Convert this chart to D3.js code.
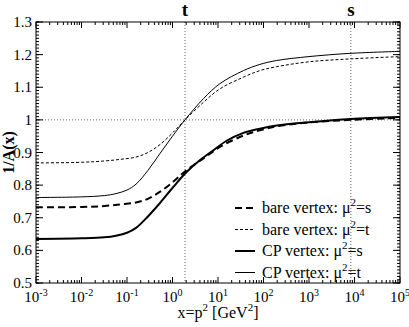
<!DOCTYPE html>
<html>
<head>
<meta charset="utf-8">
<script src="https://cdn.jsdelivr.net/npm/d3@7"></script>
<style>
  body { margin: 0; background: #fff; }
</style>
</head>
<body>
<svg id="chart" width="409" height="327" font-family="'Liberation Serif', 'Times New Roman', serif"></svg>
<script>
'use strict';

// x ticks (decades) and y ticks
var xDecades = [-3, -2, -1, 0, 1, 2, 3, 4, 5];
var yTicks = [0.5, 0.6, 0.7, 0.8, 0.9, 1.0, 1.1, 1.2, 1.3];
var yTickLabels = ['0.5', '0.6', '0.7', '0.8', '0.9', '1', '1.1', '1.2', '1.3'];

// reference scales marked on top
var tValue = 1.88;
var sValue = 8318;

// series, [x, 1/A(x)]
var bareS = [
  [0.001, 0.732], [0.01, 0.733], [0.0316, 0.736], [0.0708, 0.741], [0.158, 0.747],
  [0.288, 0.758], [0.537, 0.780], [1.05, 0.811], [1.88, 0.842], [4.79, 0.882],
  [11, 0.917], [36.3, 0.952], [83.2, 0.968], [195, 0.980], [1000, 0.992],
  [8318, 1.000], [1e5, 1.006]
];
var bareT = [
  [0.001, 0.868], [0.01, 0.870], [0.0316, 0.874], [0.0708, 0.879], [0.158, 0.886],
  [0.288, 0.900], [0.537, 0.925], [1.05, 0.963], [1.88, 1.000], [4.79, 1.054],
  [11, 1.095], [36.3, 1.131], [83.2, 1.151], [195, 1.163], [1000, 1.178],
  [8318, 1.187], [1e5, 1.194]
];
var cpS = [
  [0.001, 0.635], [0.01, 0.637], [0.0316, 0.640], [0.0575, 0.645], [0.1, 0.654],
  [0.158, 0.669], [0.288, 0.704], [0.537, 0.746], [1.05, 0.795], [2.04, 0.840],
  [3.98, 0.876], [7.94, 0.907], [15.5, 0.936], [36.3, 0.960], [83.2, 0.973],
  [195, 0.983], [1000, 0.993], [8318, 1.003], [1e5, 1.009]
];
var cpT = [
  [0.001, 0.762], [0.01, 0.764], [0.0316, 0.768], [0.0575, 0.774], [0.1, 0.785],
  [0.158, 0.803], [0.288, 0.845], [0.537, 0.898], [1, 0.950], [1.88, 1.000],
  [4.79, 1.065], [11, 1.111], [36.3, 1.151], [83.2, 1.170], [195, 1.182],
  [1000, 1.194], [8318, 1.204], [1e5, 1.210]
];

var legendLabels = ['bare vertex: μ', 'bare vertex: μ', 'CP vertex: μ', 'CP vertex: μ'];
var legendSuffix = ['=s', '=t', '=s', '=t'];

var series = [
  { data: bareS, width: 2, dash: '7,4' },
  { data: bareT, width: 1, dash: '3,2' },
  { data: cpS, width: 2, dash: null },
  { data: cpT, width: 1, dash: null }
];

var margin = { left: 36, right: 9, top: 22, bottom: 44 };
var W = 409, H = 327;
var svg = d3.select('#chart');

var x = d3.scaleLog().domain([1e-3, 1e5]).range([margin.left, W - margin.right]);
var y = d3.scaleLinear().domain([0.5, 1.3]).range([H - margin.bottom, margin.top]);

var x0 = x.range()[0], x1 = x.range()[1];
var y0 = y.range()[0], y1 = y.range()[1];

// dotted reference lines
var ref = svg.append('g')
  .attr('stroke', '#666')
  .attr('stroke-width', 1)
  .attr('stroke-dasharray', '1,2');

ref.append('line')
  .attr('x1', x0).attr('x2', x1)
  .attr('y1', y(1)).attr('y2', y(1));

[tValue, sValue].forEach(function(v) {
  ref.append('line')
    .attr('x1', x(v)).attr('x2', x(v))
    .attr('y1', y1).attr('y2', y0);
});

// curves
var line = d3.line()
  .x(function(d) { return x(d[0]); })
  .y(function(d) { return y(d[1]); })
  .curve(d3.curveCatmullRom.alpha(0.5));

series.forEach(function(s) {
  svg.append('path')
    .datum(s.data)
    .attr('d', line)
    .attr('fill', 'none')
    .attr('stroke', '#000')
    .attr('stroke-width', s.width)
    .attr('stroke-dasharray', s.dash);
});

// frame
svg.append('rect')
  .attr('x', x0).attr('y', y1)
  .attr('width', x1 - x0).attr('height', y0 - y1)
  .attr('fill', 'none')
  .attr('stroke', '#000')
  .attr('stroke-width', 1);

// ticks, all pointing inwards
var ticks = svg.append('g').attr('stroke', '#000').attr('stroke-width', 1);

var xMinor = [];
xDecades.slice(0, -1).forEach(function(e) {
  for (var k = 2; k <= 9; k++) { xMinor.push(k * Math.pow(10, e)); }
});

xDecades.forEach(function(e) {
  var px = x(Math.pow(10, e));
  ticks.append('line').attr('x1', px).attr('x2', px).attr('y1', y0).attr('y2', y0 - 6);
  ticks.append('line').attr('x1', px).attr('x2', px).attr('y1', y1).attr('y2', y1 + 6);
});
xMinor.forEach(function(v) {
  var px = x(v);
  ticks.append('line').attr('x1', px).attr('x2', px).attr('y1', y0).attr('y2', y0 - 3);
  ticks.append('line').attr('x1', px).attr('x2', px).attr('y1', y1).attr('y2', y1 + 3);
});

var yMinor = d3.range(50, 131).map(function(v) { return v / 100; });
yMinor.forEach(function(v) {
  var py = y(v);
  ticks.append('line').attr('x1', x0).attr('x2', x0 + 3).attr('y1', py).attr('y2', py);
  ticks.append('line').attr('x1', x1).attr('x2', x1 - 3).attr('y1', py).attr('y2', py);
});
yTicks.forEach(function(v) {
  var py = y(v);
  ticks.append('line').attr('x1', x0).attr('x2', x0 + 7).attr('y1', py).attr('y2', py);
  ticks.append('line').attr('x1', x1).attr('x2', x1 - 7).attr('y1', py).attr('y2', py);
});

// tick labels
yTicks.forEach(function(v, i) {
  svg.append('text')
    .attr('x', x0 - 4)
    .attr('y', y(v) + 5)
    .attr('text-anchor', 'end')
    .attr('font-size', 15)
    .text(yTickLabels[i]);
});

xDecades.forEach(function(e) {
  var t = svg.append('text')
    .attr('x', x(Math.pow(10, e)))
    .attr('y', y0 + 19)
    .attr('text-anchor', 'middle')
    .attr('font-size', 15);
  t.append('tspan').text('10');
  t.append('tspan').attr('dy', -6).attr('font-size', 10).text(e);
});

// axis titles
var xt = svg.append('text')
  .attr('x', 218)
  .attr('y', 318)
  .attr('text-anchor', 'middle')
  .attr('font-size', 16);
xt.append('tspan').text('x=p');
xt.append('tspan').attr('dy', -7).attr('font-size', 11).text('2');
xt.append('tspan').attr('dy', 7).text(' [GeV');
xt.append('tspan').attr('dy', -7).attr('font-size', 11).text('2');
xt.append('tspan').attr('dy', 7).text(']');

svg.append('text')
  .attr('transform', 'translate(14,' + ((y0 + y1) / 2) + ') rotate(-90)')
  .attr('text-anchor', 'middle')
  .attr('font-size', 16)
  .attr('font-weight', 'bold')
  .text('1/A(x)');

// t and s markers above the frame
[['t', tValue], ['s', sValue]].forEach(function(m) {
  svg.append('text')
    .attr('x', x(m[1]))
    .attr('y', 16)
    .attr('text-anchor', 'middle')
    .attr('font-size', 19)
    .attr('font-weight', 'bold')
    .text(m[0]);
});

// legend
var legend = svg.append('g').attr('transform', 'translate(235,208)');
series.forEach(function(s, i) {
  var row = legend.append('g').attr('transform', 'translate(0,' + (i * 21.5) + ')');
  row.append('line')
    .attr('x1', 0).attr('x2', 20)
    .attr('y1', 0).attr('y2', 0)
    .attr('stroke', '#000')
    .attr('stroke-width', s.width)
    .attr('stroke-dasharray', s.dash);
  var t = row.append('text')
    .attr('x', 27)
    .attr('y', 5)
    .attr('font-size', 16);
  t.append('tspan').text(legendLabels[i]);
  t.append('tspan').attr('dy', -7).attr('font-size', 11).text('2');
  t.append('tspan').attr('dy', 7).text(legendSuffix[i]);
});
</script>
</body>
</html>
